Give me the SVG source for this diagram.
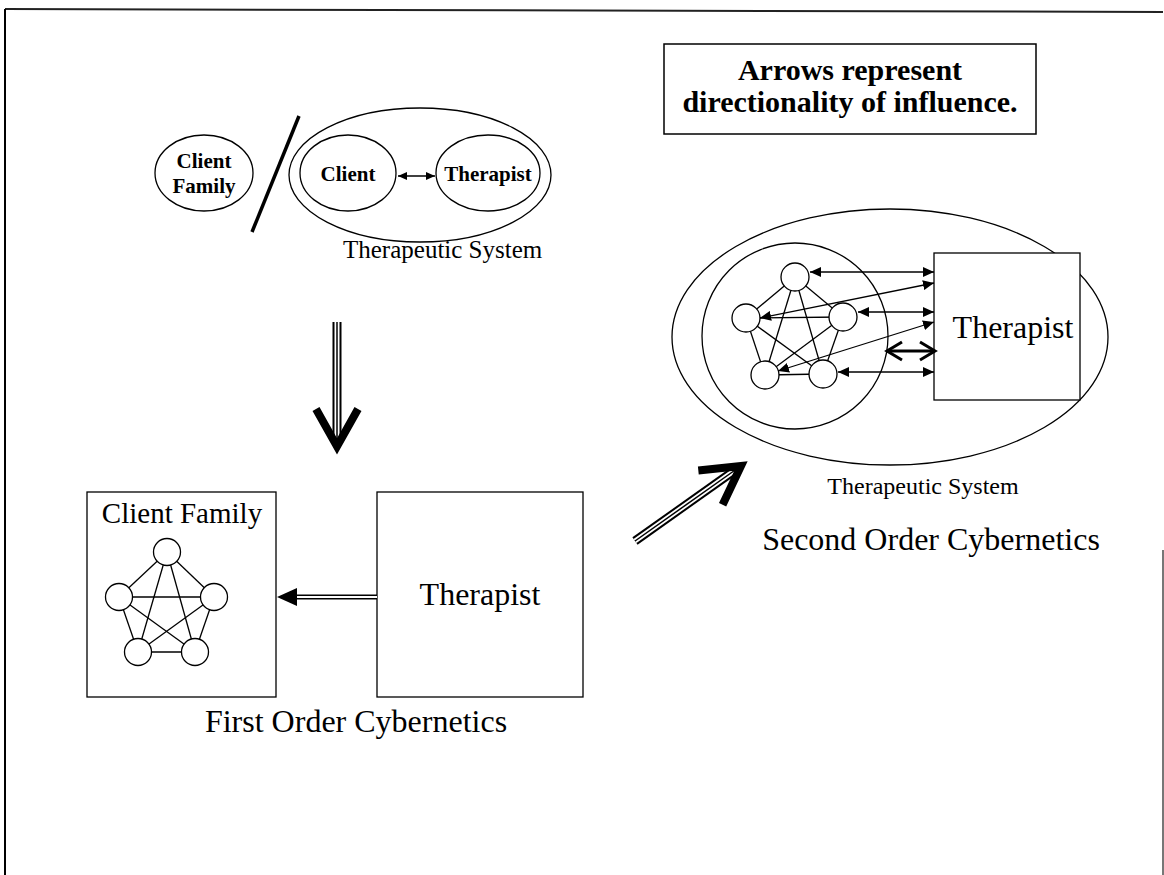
<svg xmlns="http://www.w3.org/2000/svg" width="1164" height="875" viewBox="0 0 1164 875">
<style>
.ln{fill:none;stroke:#000;stroke-width:1.3}
.sh{fill:#fff;stroke:#000;stroke-width:1.3}
.tb{font-family:"Liberation Serif","Times New Roman",serif;font-weight:bold;fill:#000}
.t{font-family:"Liberation Serif","Times New Roman",serif;fill:#000}
.con{fill:none;stroke:#000;stroke-width:1.3}
</style>
<defs>
<marker id="ah" viewBox="0 0 11 10" refX="11" refY="5" markerWidth="11" markerHeight="10" markerUnits="userSpaceOnUse" orient="auto-start-reverse"><path d="M0,0 L11,5 L0,10 z" fill="#000"/></marker>
<marker id="ahs" viewBox="0 0 9 8" refX="9" refY="4" markerWidth="9" markerHeight="8" markerUnits="userSpaceOnUse" orient="auto-start-reverse"><path d="M0,0 L9,4 L0,8 z" fill="#000"/></marker>
<polyline id="chev" points="-46,-21 -8.6,0 -46,21" fill="none" stroke="#000" stroke-width="8" stroke-linejoin="miter"/>
</defs>

<g id="border">
<line x1="5" y1="9" x2="1163" y2="12" stroke="#222" stroke-width="2"/>
<line x1="5" y1="9" x2="5" y2="875" stroke="#000" stroke-width="2"/>
<line x1="1163" y1="550" x2="1163" y2="875" stroke="#777" stroke-width="2"/>
</g>

<g id="legend">
<rect x="664" y="44" width="372" height="90" fill="#fff" stroke="#000" stroke-width="1.5"/>
<text class="tb" x="850" y="80" font-size="30" text-anchor="middle">Arrows represent</text>
<text class="tb" x="850" y="112" font-size="30" text-anchor="middle">directionality of influence.</text>
</g>

<g id="top-client-family">
<ellipse class="sh" cx="204" cy="173" rx="49" ry="38"/>
<text class="tb" x="204" y="168" font-size="21" text-anchor="middle">Client</text>
<text class="tb" x="204" y="193" font-size="21" text-anchor="middle">Family</text>
</g>
<line id="slash" x1="299" y1="116" x2="252" y2="232" stroke="#000" stroke-width="3.5"/>

<g id="top-therapeutic-system">
<ellipse class="sh" cx="420" cy="175" rx="131" ry="67"/>
<text class="t" x="343" y="258" font-size="25">Therapeutic System</text>
</g>
<g id="top-client">
<ellipse class="sh" cx="348" cy="173" rx="48" ry="38"/>
<text class="tb" x="348" y="181" font-size="21" text-anchor="middle">Client</text>
</g>
<g id="top-therapist">
<ellipse class="sh" cx="488" cy="173" rx="52" ry="38"/>
<text class="tb" x="488" y="181" font-size="21" text-anchor="middle">Therapist</text>
</g>

<g id="first-family">
<rect class="sh" x="87" y="492" width="189" height="205"/>
<text class="t" x="182" y="523" font-size="29" text-anchor="middle">Client Family</text>
<g class="ln">
<line x1="167" y1="552" x2="119" y2="597"/><line x1="167" y1="552" x2="214" y2="597"/>
<line x1="167" y1="552" x2="138" y2="652"/><line x1="167" y1="552" x2="195" y2="652"/>
<line x1="119" y1="597" x2="214" y2="597"/><line x1="119" y1="597" x2="138" y2="652"/>
<line x1="119" y1="597" x2="195" y2="652"/><line x1="214" y1="597" x2="195" y2="652"/>
<line x1="214" y1="597" x2="138" y2="652"/><line x1="138" y1="652" x2="195" y2="652"/>
</g>
<circle class="sh" cx="167" cy="552" r="13.5"/><circle class="sh" cx="119" cy="597" r="13.5"/>
<circle class="sh" cx="214" cy="597" r="13.5"/><circle class="sh" cx="138" cy="652" r="13.5"/>
<circle class="sh" cx="195" cy="652" r="13.5"/>
</g>
<g id="first-therapist">
<rect class="sh" x="377" y="492" width="206" height="205"/>
<text class="t" x="480" y="605" font-size="32" text-anchor="middle">Therapist</text>
</g>
<text id="first-label" class="t" x="356" y="732" font-size="32" text-anchor="middle">First Order Cybernetics</text>

<g id="second-system">
<ellipse class="sh" cx="890" cy="337" rx="218" ry="128"/>
<circle class="sh" cx="795" cy="336" r="93"/>
<text class="t" x="923" y="494" font-size="24" text-anchor="middle">Therapeutic System</text>
</g>
<g id="second-family">
<g class="ln">
<line x1="795" y1="277" x2="746" y2="318"/><line x1="795" y1="277" x2="843" y2="317"/>
<line x1="795" y1="277" x2="765" y2="375"/><line x1="795" y1="277" x2="823" y2="374"/>
<line x1="746" y1="318" x2="843" y2="317"/><line x1="746" y1="318" x2="765" y2="375"/>
<line x1="746" y1="318" x2="823" y2="374"/><line x1="843" y1="317" x2="823" y2="374"/>
<line x1="843" y1="317" x2="765" y2="375"/><line x1="765" y1="375" x2="823" y2="374"/>
</g>
<circle class="sh" cx="795" cy="277" r="14"/><circle class="sh" cx="746" cy="318" r="14"/>
<circle class="sh" cx="843" cy="317" r="14"/><circle class="sh" cx="765" cy="375" r="14"/>
<circle class="sh" cx="823" cy="374" r="14"/>
</g>
<g id="second-therapist">
<rect class="sh" x="934" y="253" width="146" height="147"/>
<text class="t" x="1013" y="338" font-size="32" text-anchor="middle">Therapist</text>
</g>
<text id="second-label" class="t" x="931" y="550" font-size="32" text-anchor="middle">Second Order Cybernetics</text>

<g id="connectors">
<line class="con" x1="398" y1="176" x2="435" y2="176" stroke-width="1.8" marker-start="url(#ahs)" marker-end="url(#ahs)"/>
<g id="down-arrow">
<line x1="337" y1="322" x2="337" y2="445" stroke="#000" stroke-width="9"/>
<line x1="337" y1="322" x2="337" y2="445" stroke="#fff" stroke-width="5"/>
<line x1="337" y1="322" x2="337" y2="445" stroke="#000" stroke-width="1.5"/>
<use href="#chev" transform="translate(337,455) rotate(90)"/>
</g>
<g id="left-arrow">
<line x1="296" y1="597" x2="377" y2="597" stroke="#000" stroke-width="5"/>
<line x1="296" y1="597" x2="377" y2="597" stroke="#fff" stroke-width="2"/>
<path d="M277,597 L297,588 L297,606 z" fill="#000"/>
</g>
<g id="diag-arrow">
<line x1="635" y1="541" x2="738" y2="468" stroke="#000" stroke-width="9"/>
<line x1="635" y1="541" x2="738" y2="468" stroke="#fff" stroke-width="5"/>
<line x1="635" y1="541" x2="738" y2="468" stroke="#000" stroke-width="1.5"/>
<use href="#chev" transform="translate(748,461) rotate(-35.3)"/>
</g>
<line class="con" x1="810" y1="272" x2="934" y2="272" marker-start="url(#ah)" marker-end="url(#ah)"/>
<line class="con" x1="760" y1="318" x2="934" y2="283" marker-start="url(#ah)" marker-end="url(#ah)"/>
<line class="con" x1="858" y1="312" x2="934" y2="312" marker-start="url(#ah)" marker-end="url(#ah)"/>
<line class="con" x1="778" y1="371" x2="934" y2="322" marker-start="url(#ah)" marker-end="url(#ah)"/>
<line class="con" x1="838" y1="372" x2="934" y2="372" marker-start="url(#ah)" marker-end="url(#ah)"/>
<g id="open-arrow" fill="none" stroke="#000" stroke-width="3">
<line x1="887" y1="351" x2="935" y2="351"/>
<polyline points="902,342 887,351 902,360"/>
<polyline points="920,342 935,351 920,360"/>
</g>
</g>
</svg>
